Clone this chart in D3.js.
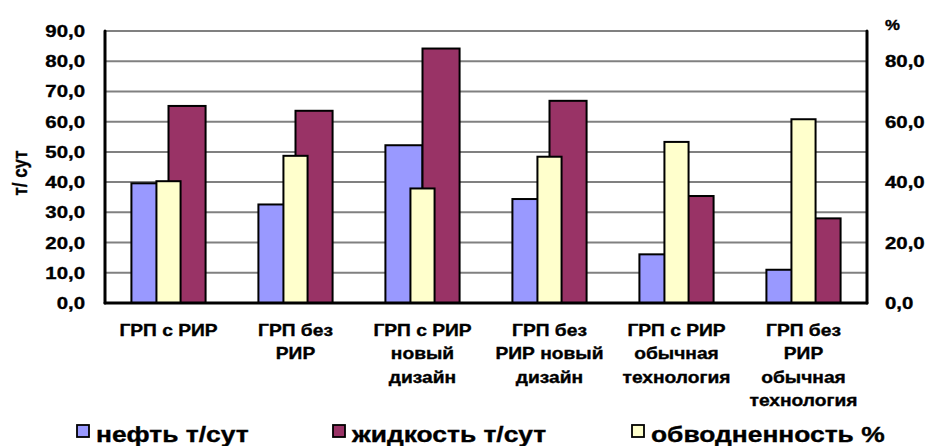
<!DOCTYPE html>
<html>
<head>
<meta charset="utf-8">
<script src="https://cdn.jsdelivr.net/npm/d3@7"></script>
<style>
  html, body { margin: 0; padding: 0; background: #fff; }
  svg { display: block; }
  text { font-family: "Liberation Sans", Arial, sans-serif; font-weight: bold; fill: #000; stroke: #000; stroke-width: 0.35px; }
</style>
</head>
<body>
<svg id="chart" width="933" height="446"></svg>
<script>
// Categories (multi-line axis labels)
const categories = [
  ["ГРП с РИР"],
  ["ГРП без", "РИР"],
  ["ГРП с РИР", "новый", "дизайн"],
  ["ГРП без", "РИР новый", "дизайн"],
  ["ГРП с РИР", "обычная", "технология"],
  ["ГРП без", "РИР", "обычная", "технология"]
];
// Series values
const oil = [39.6, 32.6, 52.2, 34.4, 16.1, 11.0];        // нефть, т/сут
const liquid = [65.2, 63.6, 84.2, 66.9, 35.4, 28.0];     // жидкость, т/сут
const waterCut = [40.3, 48.7, 37.9, 48.4, 53.3, 60.8];   // обводненность, %
// Tick values
const leftTicks = [0, 10, 20, 30, 40, 50, 60, 70, 80, 90];
const rightTicks = [0, 20, 40, 60, 80];

const seriesNames = ["нефть т/сут", "жидкость т/сут", "обводненность %"];
const colors = ["#9999FF", "#993366", "#FFFFCC"];

const svg = d3.select("#chart");
const SX = 1.2; // horizontal stretch of the lettering

const plot = { left: 105, right: 867, top: 31, bottom: 303 };

const keys = categories.map((c, i) => i);
const x = d3.scaleBand().domain(keys).range([plot.left, plot.right]).padding(0);
const yL = d3.scaleLinear().domain([0, 90]).range([plot.bottom, plot.top]);
const yR = d3.scaleLinear().domain([0, 90]).range([plot.bottom, plot.top]);

const pairWidth = x.bandwidth() * 0.584;
const inner = d3.scaleBand().domain(["oil", "liquid"]).range([0, pairWidth]).padding(0);
const pairOffset = (x.bandwidth() - pairWidth) / 2;
const creamWidth = x.bandwidth() * 0.19;

function label(g, tx, ty, str, size, anchor) {
  return g.append("text")
    .attr("transform", `translate(${tx},${ty}) scale(${SX},1)`)
    .attr("text-anchor", anchor || "start")
    .style("font-size", size + "px")
    .text(str);
}

// Gridlines
svg.append("g").selectAll("line").data(leftTicks.filter(d => d > 0)).join("line")
  .attr("x1", plot.left).attr("x2", plot.right)
  .attr("y1", d => yL(d)).attr("y2", d => yL(d))
  .attr("stroke", "#808080").attr("stroke-width", 2);

// Primary-axis bars: oil and liquid
const primary = [
  { key: "oil", values: oil, color: colors[0] },
  { key: "liquid", values: liquid, color: colors[1] }
];
primary.forEach(s => {
  svg.append("g").selectAll("rect").data(s.values).join("rect")
    .attr("x", (d, i) => x(i) + pairOffset + inner(s.key))
    .attr("width", inner.bandwidth())
    .attr("y", d => yL(d))
    .attr("height", d => yL(0) - yL(d))
    .attr("fill", s.color)
    .attr("stroke", "#000").attr("stroke-width", 2);
});

// Secondary-axis bars: water cut, centred over each category
svg.append("g").selectAll("rect").data(waterCut).join("rect")
  .attr("x", (d, i) => x(i) + x.bandwidth() / 2 - creamWidth / 2)
  .attr("width", creamWidth)
  .attr("y", d => yR(d))
  .attr("height", d => yR(0) - yR(d))
  .attr("fill", colors[2])
  .attr("stroke", "#000").attr("stroke-width", 2);

// Axis lines
const axes = svg.append("g").attr("stroke", "#000").attr("stroke-width", 3).attr("stroke-linecap", "round");
axes.append("line").attr("x1", plot.left).attr("x2", plot.left).attr("y1", plot.top).attr("y2", plot.bottom);
axes.append("line").attr("x1", plot.right).attr("x2", plot.right).attr("y1", plot.top).attr("y2", plot.bottom);
axes.append("line").attr("x1", plot.left).attr("x2", plot.right).attr("y1", plot.bottom).attr("y2", plot.bottom);

const fmt = d => d3.format(".1f")(d).replace(".", ",");

// Left tick labels
const gl = svg.append("g");
leftTicks.forEach(t => label(gl, 85, yL(t) + 6, fmt(t), 17, "end"));

// Right tick labels
const gr = svg.append("g");
rightTicks.forEach(t => label(gr, 885, yR(t) + 6, fmt(t), 17, "start"));
label(gr, 885, 30, "%", 14, "start");

// Left axis title
svg.append("text")
  .attr("transform", `translate(27,${173}) rotate(-90) scale(1,${SX})`)
  .attr("text-anchor", "middle")
  .style("font-size", "17px")
  .text("т/ сут");

// Category labels
const gc = svg.append("g");
categories.forEach((lines, i) => {
  lines.forEach((ln, j) => label(gc, x(i) + x.bandwidth() / 2, 336 + j * 23.3, ln, 16, "middle"));
});

// Legend
const legendX = [77, 333, 632];
const lg = svg.append("g");
seriesNames.forEach((n, i) => {
  lg.append("rect").attr("x", legendX[i]).attr("y", 425).attr("width", 12).attr("height", 12)
    .attr("fill", colors[i]).attr("stroke", "#000").attr("stroke-width", 1.8);
  label(lg, legendX[i] + 19, 442, n, 22, "start");
});
</script>
</body>
</html>
